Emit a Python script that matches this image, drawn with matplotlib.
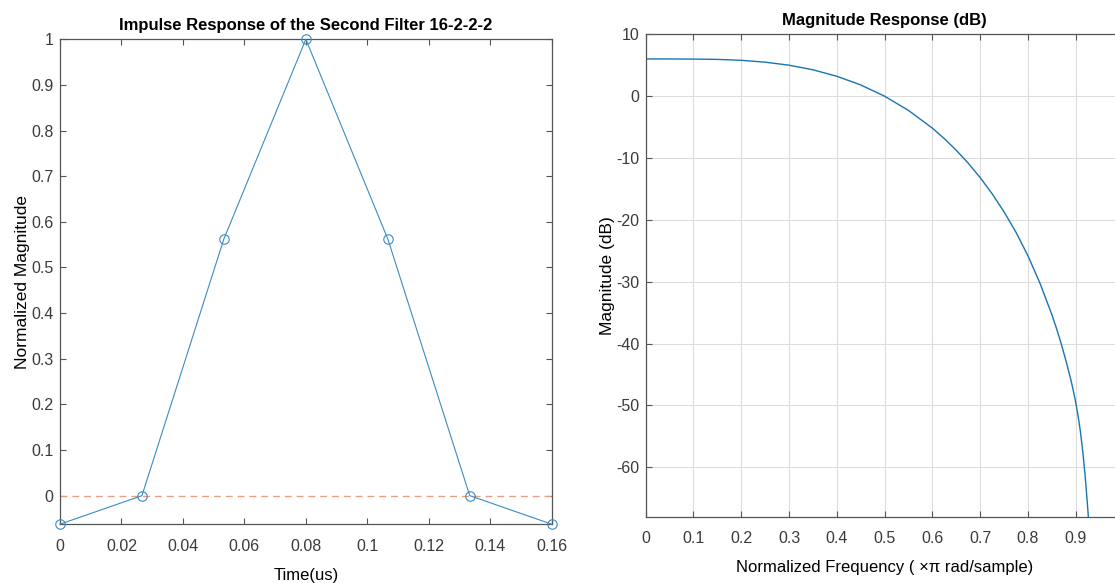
import matplotlib
matplotlib.use('Agg')
import matplotlib.pyplot as plt
from matplotlib import font_manager

# %% data
# impulse response of the second filter
time_us = [0, 0.02667, 0.05333, 0.08, 0.10667, 0.13333, 0.16]
impulse = [-0.0625, 0, 0.5625, 1, 0.5625, 0, -0.0625]

# magnitude response (dB) vs normalized frequency (x pi rad/sample)
freq = [0, 0.05, 0.1, 0.15, 0.2, 0.25, 0.3, 0.35, 0.4, 0.45, 0.5, 0.55,
        0.6, 0.625, 0.65, 0.675, 0.7, 0.725, 0.75, 0.775, 0.8, 0.825,
        0.85, 0.86, 0.87, 0.88, 0.89, 0.895, 0.9, 0.905, 0.91, 0.915, 0.92, 0.925, 0.93]
mag_db = [6.02, 6.02, 6.0, 5.95, 5.8, 5.5, 5.01, 4.27, 3.22, 1.82, 0.0, -2.3,
          -5.17, -6.86, -8.74, -10.83, -13.16, -15.77, -18.7, -22.0, -25.8, -30.2,
          -35.3, -37.6, -40.1, -42.9, -45.9, -47.6, -49.5, -51.7, -54.3, -57.6, -61.6, -66.4, -72.0]

left_xticks = [0, 0.02, 0.04, 0.06, 0.08, 0.1, 0.12, 0.14, 0.16]
left_xlabels = ['0', '0.02', '0.04', '0.06', '0.08', '0.1', '0.12', '0.14', '0.16']
left_yticks = [0, 0.1, 0.2, 0.3, 0.4, 0.5, 0.6, 0.7, 0.8, 0.9, 1]
left_ylabels = ['0', '0.1', '0.2', '0.3', '0.4', '0.5', '0.6', '0.7', '0.8', '0.9', '1']
right_xticks = [0, 0.1, 0.2, 0.3, 0.4, 0.5, 0.6, 0.7, 0.8, 0.9]
right_xlabels = ['0', '0.1', '0.2', '0.3', '0.4', '0.5', '0.6', '0.7', '0.8', '0.9']
right_yticks = [-60, -50, -40, -30, -20, -10, 0, 10]

# %% fonts: narrow Arial-like if available
names = {f.name for f in font_manager.fontManager.ttflist}
fam = 'Liberation Sans Narrow' if 'Liberation Sans Narrow' in names else 'Liberation Sans'
plt.rcParams['font.family'] = [fam, 'DejaVu Sans']
plt.rcParams['font.size'] = 11.5
plt.rcParams['axes.unicode_minus'] = False

axis_col = '#555555'
tick_col = '#3a3a3a'

fig = plt.figure(figsize=(11.15, 5.83), dpi=100)
ax1 = fig.add_axes([0.0538, 0.1009, 0.441, 0.8317])
ax2 = fig.add_axes([0.5791, 0.1137, 0.4285, 0.8274])

# %% left: impulse response
ax1.plot(time_us, impulse, color='#3a8cc4', linewidth=0.8, marker='o',
         markersize=6.8, markerfacecolor='none', markeredgewidth=0.8, clip_on=False, zorder=3)
ax1.axhline(0, color='#e6a084', linestyle=(0, (5, 3.5)), linewidth=1.0, zorder=2)
ax1.set_xlim(0, 0.16)
ax1.set_ylim(-0.0625, 1)
ax1.set_xticks(left_xticks)
ax1.set_xticklabels(left_xlabels)
ax1.set_yticks(left_yticks)
ax1.set_yticklabels(left_ylabels)
ax1.set_title('Impulse Response of the Second Filter 16-2-2-2', fontweight='bold',
              fontsize=12, pad=7)
ax1.set_xlabel('Time(us)', labelpad=10, fontsize=12)
ax1.set_ylabel('Normalized Magnitude', labelpad=1, fontsize=12.5)

# %% right: magnitude response
ax2.plot(freq, mag_db, color='#1a74b0', linewidth=1.0)
ax2.set_xlim(0, 1)
ax2.set_ylim(-68, 10)
ax2.set_xticks(right_xticks)
ax2.set_xticklabels(right_xlabels)
ax2.set_yticks(right_yticks)
ax2.grid(True, color='#dcdcdc', linewidth=0.8)
ax2.set_axisbelow(True)
ax2.set_title('Magnitude Response (dB)', fontweight='bold', fontsize=12, pad=7)
ax2.set_xlabel('Normalized Frequency ( ×π rad/sample)', labelpad=10, fontsize=12)
ax2.set_ylabel('Magnitude (dB)', labelpad=1, fontsize=12.5)

for ax in (ax1, ax2):
    ax.tick_params(direction='in', length=4, width=0.8, top=True, right=True,
                   colors=axis_col, labelcolor=tick_col)
    ax.tick_params(axis='x', pad=10.5)
    ax.tick_params(axis='y', pad=4.5)
    for s in ax.spines.values():
        s.set_color(axis_col)
        s.set_linewidth(0.9)

fig.savefig('out.png', dpi=100)
